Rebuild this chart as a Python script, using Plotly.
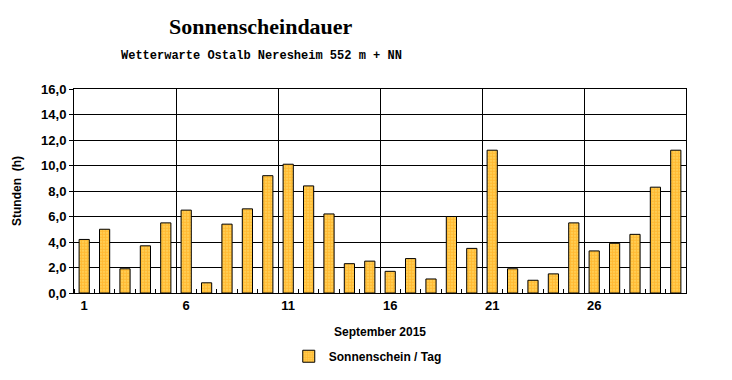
import plotly.graph_objects as go

days = list(range(1, 31))
sunshine = [4.2, 5.0, 1.9, 3.7, 5.5, 6.5, 0.8, 5.4, 6.6, 9.2,
            10.1, 8.4, 6.2, 2.3, 2.5, 1.7, 2.7, 1.1, 6.0, 3.5,
            11.2, 1.9, 1.0, 1.5, 5.5, 3.3, 3.9, 4.6, 8.3, 11.2]
x_tick_vals = [1, 6, 11, 16, 21, 26]
x_grid_vals = [5.5, 10.5, 15.5, 20.5, 25.5]
y_tick_vals = [0, 2, 4, 6, 8, 10, 12, 14, 16]

fig = go.Figure()
fig.add_trace(go.Bar(
    x=days, y=sunshine, name="Sonnenschein / Tag", width=0.5,
    marker=dict(color="#FFBB33", line=dict(color="black", width=1),
                pattern=dict(shape=".", fgcolor="#FF9900", bgcolor="#FFD966",
                             size=3, solidity=0.7)),
    showlegend=True,
))
# invisible trace on overlay axis to drive vertical gridlines
fig.add_trace(go.Scatter(x=[0.5, 30.5], y=[0, 0], xaxis="x2", mode="lines",
                         line=dict(width=0), showlegend=False, hoverinfo="skip"))

axis_font = dict(family="Liberation Sans", size=12, color="black")
fig.update_layout(
    width=732, height=380,
    margin=dict(l=66, r=54, t=81, b=95, autoexpand=False),
    paper_bgcolor="white", plot_bgcolor="white",
    separators=",.",
    font=dict(family="Liberation Sans", size=12, color="black"),
    xaxis=dict(range=[0.5, 30.5], tickvals=x_tick_vals, ticks="", showgrid=False,
               automargin=False,
               tickfont=dict(family="Liberation Sans", size=13, color="black", weight="bold"),
               showline=True, linecolor="black", linewidth=1, mirror=True,
               minor=dict(tick0=0.5, dtick=1, ticks="inside", ticklen=4, tickcolor="black", showgrid=False),
               title=dict(text="<b>September 2015</b>", font=axis_font, standoff=16),
               zeroline=False),
    xaxis2=dict(range=[0.5, 30.5], overlaying="x", tickvals=x_grid_vals, showticklabels=False,
                showgrid=True, gridcolor="black", gridwidth=1, ticks="", showline=False,
                zeroline=False, automargin=False),
    yaxis=dict(range=[0, 16], tickvals=y_tick_vals, tickformat=".1f",
               ticks="outside", ticklen=4, tickcolor="black", automargin=False,
               tickfont=dict(family="Liberation Sans", size=13, color="black", weight="bold"),
               showgrid=True, gridcolor="black", gridwidth=1,
               showline=True, linecolor="black", linewidth=1, mirror=True, zeroline=False,
               title=dict(text="<b>Stunden  (h)</b>", font=axis_font, standoff=16)),
    legend=dict(orientation="h", x=0.48, xanchor="center", y=-0.31, yanchor="middle",
                font=dict(family="Liberation Sans", size=12, color="black", weight="bold")),
)
fig.add_annotation(text="<b>Sonnenscheindauer</b>", xref="paper", yref="paper",
                   x=0.3056, y=1 + (89 - 27) / 204, xanchor="center", yanchor="middle",
                   showarrow=False, font=dict(family="Liberation Serif", size=22, color="black"))
fig.add_annotation(text="<b>Wetterwarte Ostalb Neresheim 552 m + NN</b>", xref="paper", yref="paper",
                   x=0.3056, y=1 + (89 - 56) / 204, xanchor="center", yanchor="middle",
                   showarrow=False, font=dict(family="Liberation Mono", size=12, color="black"))

fig.write_html("out.html")
